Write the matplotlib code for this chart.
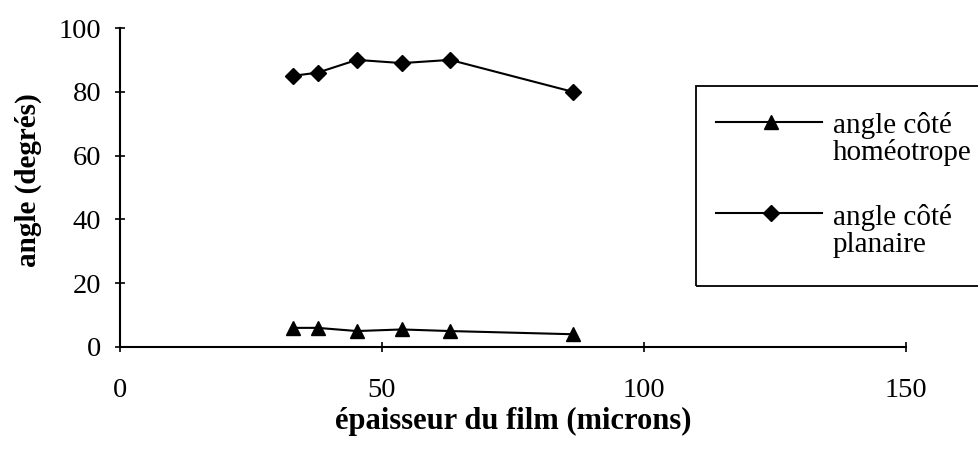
import matplotlib
matplotlib.use("Agg")
import matplotlib.pyplot as plt
from matplotlib.lines import Line2D
from matplotlib.patches import Rectangle

# Film thickness (microns)
thickness = [33.0, 37.7, 45.2, 53.8, 63.0, 86.4]
# Angle measured on the homeotropic side (degrees)
angle_homeotrope = [6.0, 6.0, 5.0, 5.5, 5.0, 4.0]
# Angle measured on the planar side (degrees)
angle_planaire = [85.0, 86.0, 90.0, 89.0, 90.0, 80.0]

x_ticks = [0, 50, 100, 150]
y_ticks = [0, 20, 40, 60, 80, 100]

serif = ["Liberation Serif", "DejaVu Serif"]
plt.rcParams["font.family"] = serif

fig = plt.figure(figsize=(9.79, 4.57), dpi=100)
ax = fig.add_axes([120 / 979, 1 - 347 / 457, 786 / 979, 319 / 457])

ax.plot(thickness, angle_homeotrope, color="black", lw=1.5,
        marker="^", markersize=10, clip_on=False)
ax.plot(thickness, angle_planaire, color="black", lw=1.5,
        marker="D", markersize=8.5, clip_on=False)

ax.set_xlim(0, 150)
ax.set_ylim(0, 100)
ax.set_xticks(x_ticks)
ax.set_yticks(y_ticks)
ax.set_xticklabels([str(v) for v in x_ticks])
ax.set_yticklabels([str(v) for v in y_ticks])

for side in ("top", "right"):
    ax.spines[side].set_visible(False)
for side in ("left", "bottom"):
    ax.spines[side].set_linewidth(1.5)

ax.tick_params(axis="both", direction="inout", length=7, width=1.2,
               labelsize=20.5, colors="black")
ax.tick_params(axis="x", pad=19)
ax.tick_params(axis="y", pad=10)

ax.set_xlabel("épaisseur du film (microns)", fontsize=22,
              fontweight="bold", labelpad=2.5)
ax.set_ylabel("angle (degrés)", fontsize=21, fontweight="bold")
ax.yaxis.set_label_coords(-0.099, 0.523)

# Legend box, running off the right edge of the figure
tr = ax.transAxes
ax.add_patch(Rectangle((0.7328, 0.19), 0.40, 0.629, transform=tr,
                       fill=False, edgecolor="black", lw=1.3, clip_on=False))

entries = [
    ("^", 10, 0.706, ["angle côté", "homéotrope"], [0.671, 0.586]),
    ("D", 8.5, 0.419, ["angle côté", "planaire"], [0.382, 0.298]),
]
for marker, ms, yline, lines, baselines in entries:
    ax.add_line(Line2D([0.758, 0.893], [yline, yline], transform=tr,
                       color="black", lw=1.5, clip_on=False))
    ax.add_line(Line2D([0.828], [yline], transform=tr, color="black",
                       marker=marker, markersize=ms, lw=0, clip_on=False))
    for text, yb in zip(lines, baselines):
        ax.text(0.907, yb, text, transform=tr, fontsize=21,
                va="baseline", ha="left")

fig.savefig("out.png", dpi=100)
